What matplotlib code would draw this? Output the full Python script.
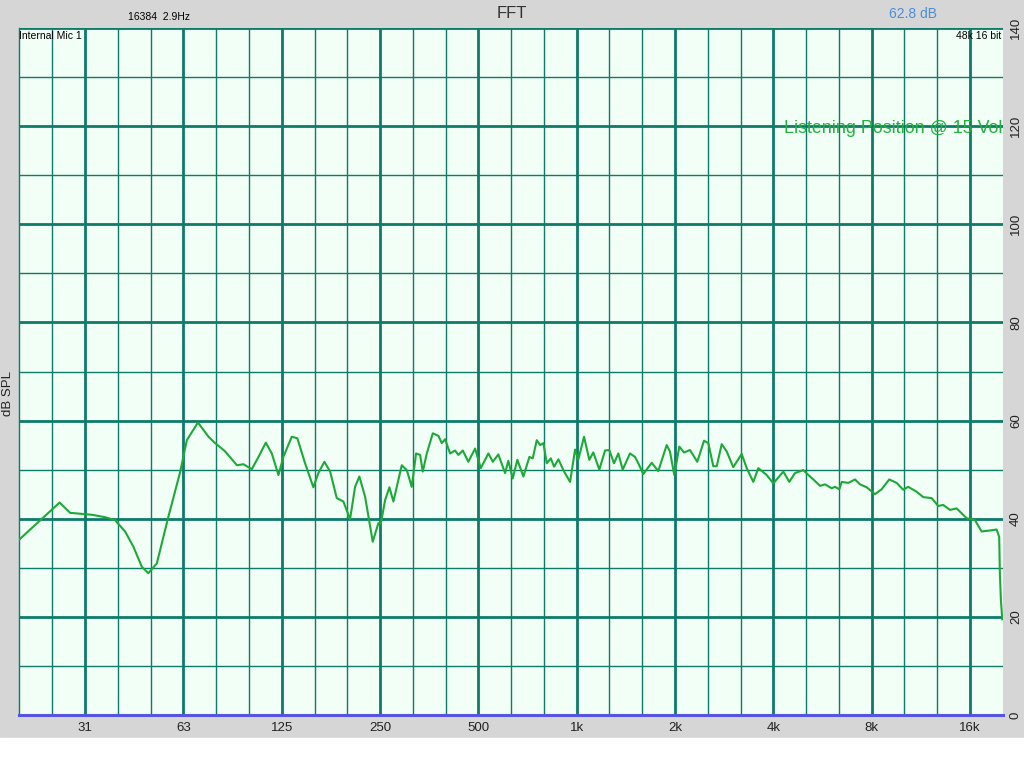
import matplotlib
matplotlib.use('Agg')
import matplotlib.pyplot as plt
import numpy as np
from matplotlib.patches import Rectangle

plt.rcParams['font.family'] = ['Liberation Sans', 'DejaVu Sans']

freq = [19.6, 26.1, 28.1, 32.8, 36.0, 38.6, 41.4, 43.9, 46.6, 48.8, 51.8, 56.2, 61.1,
        64.0, 69.2, 74.6, 78.1, 81.9, 83.9, 91.1, 95.4, 101.2, 106.1, 111.7, 116.5, 122.1,
        126.4, 134.1, 139.5, 147.3, 156.2, 161.8, 168.8, 175.8, 184.2, 193.0, 202.3, 209.6,
        216.0, 224.9, 237.4, 247.0, 251.2, 259.0, 267.0, 274.6, 291.3, 301.8, 312.5, 322.2,
        331.5, 337.8, 347.5, 362.5, 377.0, 386.3, 395.3, 409.5, 424.2, 434.2, 447.8, 465.8,
        488.5, 508.5, 536.5, 553.5, 575.5, 603.5, 617.5, 637, 658, 686.5, 716.5, 733.5,
        754.5, 772.5, 790.5, 810, 833, 852.5, 879, 915, 954.5, 988.5, 1011, 1053, 1093,
        1124, 1173, 1221, 1258, 1301, 1341, 1383, 1456, 1508, 1544, 1599, 1697, 1777, 1886,
        1930, 1990, 2062, 2131, 2223, 2340, 2454, 2529, 2620, 2684, 2780, 2880, 3016, 3200,
        3316, 3474, 3598, 3818, 4000, 4292, 4477, 4660, 4940, 5181, 5304, 5560, 5760, 6036,
        6180, 6369, 6480, 6788, 7115, 7371, 7727, 8188, 8584, 9057, 9543, 9997, 10352,
        10984, 11512, 12216, 12792, 13256, 13896, 14568, 15632, 16576, 17376, 18416, 19312,
        19664, 19760, 19904, 20096]
spl = [35.7, 43.3, 41.2, 40.8, 40.3, 39.7, 37.4, 34.3, 30.2, 28.9, 30.9, 40.4, 49.6,
       56.0, 59.6, 56.7, 55.4, 54.3, 53.7, 50.9, 51.1, 50.1, 52.6, 55.5, 53.3, 48.9,
       52.6, 56.7, 56.4, 51.3, 46.4, 49.3, 51.6, 49.6, 44.2, 43.5, 39.9, 46.5,
       48.6, 44.5, 35.3, 39.1, 38.9, 43.8, 46.4, 43.5, 50.9, 49.9, 46.5, 53.3,
       53.0, 49.6, 53.3, 57.4, 56.9, 55.4, 56.2, 53.3, 53.9, 53.0, 53.9, 51.6,
       54.3, 50.3, 53.3, 51.6, 53.1, 49.3, 51.8, 48.2, 52.0, 48.6, 52.6, 52.3,
       56.0, 55.0, 55.4, 51.3, 52.3, 50.6, 52.1, 49.6, 47.5, 54.1, 52.0, 56.7, 52.0,
       53.5, 50.0, 53.9, 54.0, 51.3, 53.3, 50.0, 53.3, 52.6, 51.3, 49.1, 51.4, 49.7, 55.0,
       53.7, 48.9, 54.7, 53.5, 54.0, 51.6, 55.9, 55.4, 50.7, 50.7, 55.2, 53.7, 50.5, 53.2,
       50.3, 47.5, 50.3, 48.9, 47.2, 49.6, 47.5, 49.3, 49.9, 48.6, 48.0, 46.7, 47.0, 46.2,
       46.5, 46.0, 47.5, 47.3, 48.0, 47.0, 46.4, 45.0, 46.0, 48.0, 47.3, 45.9, 46.5,
       45.5, 44.4, 44.2, 42.6, 42.8, 41.8, 42.1, 40.1, 39.7, 37.4, 37.6, 37.8,
       36.3, 28.9, 23.4, 19.5]

tick_freqs = [31.25, 62.5, 125, 250, 500, 1000, 2000, 4000, 8000, 16000]
tick_labels = ['31', '63', '125', '250', '500', '1k', '2k', '4k', '8k', '16k']
y_ticks = [0, 20, 40, 60, 80, 100, 120, 140]

grid_col = '#0e7a68'

fig = plt.figure(figsize=(10.24, 7.68), dpi=100, facecolor='#d6d6d6')
fig.patches.append(Rectangle((0, 0), 1, 30/768, transform=fig.transFigure,
                             color='white', zorder=0))
ax = fig.add_axes([19/1024, 53/768, 984/1024, 687/768])
ax.set_facecolor('#f1fff6')
ax.set_xscale('log')
ax.set_xlim(19.6, 20200)
ax.set_ylim(0, 140)

# grid: octaves and 20 dB thick, third octaves and 10 dB thin
for k in range(-2, 29):
    f = 31.25 * 2 ** (k / 3)
    if f <= 19.7 or f > 20000:
        continue
    ax.axvline(f, color=grid_col, lw=2.0 if k % 3 == 0 else 1.0, zorder=1)
for v in range(10, 141, 10):
    ax.axhline(v, color=grid_col, lw=2.0 if v % 20 == 0 else 1.0, zorder=1)

ax.plot(freq, spl, color='#1fa83a', lw=1.5, zorder=3)

for s in ['top', 'right']:
    ax.spines[s].set_visible(False)
ax.spines['left'].set_color(grid_col)
ax.spines['left'].set_linewidth(1.0)
ax.spines['bottom'].set_color('#5555dd')
ax.spines['bottom'].set_linewidth(2.2)
ax.spines['bottom'].set_zorder(4)

ax.set_xticks(tick_freqs)
ax.set_xticklabels(tick_labels)
ax.xaxis.set_minor_locator(matplotlib.ticker.NullLocator())
ax.tick_params(axis='x', length=0, pad=5, labelsize=9.5, labelcolor='#222222')
ax.yaxis.tick_right()
ax.set_yticks(y_ticks)
ax.set_yticklabels([str(v) for v in y_ticks], rotation=90, va='center')
ax.tick_params(axis='y', length=0, pad=5, labelsize=9.5, labelcolor='#222222')

ax.text(0.0, 0.995, 'Internal Mic 1', transform=ax.transAxes, fontsize=7.5,
        va='top', ha='left', zorder=5)
ax.text(0.998, 0.995, '48k 16 bit', transform=ax.transAxes, fontsize=7.5,
        va='top', ha='right', zorder=5)
ax.text(0.999, 119.5, 'Listening Position @ 15 Vol', color='#22b040',
        transform=ax.get_yaxis_transform(),
        fontsize=12.9, va='center', ha='right', zorder=5)

fig.text(512/1024, 1 - 14/768, 'FFT', ha='center', va='center', fontsize=12,
         color='#333333')
fig.text(128/1024, 1 - 17/768, '16384  2.9Hz', ha='left', va='center', fontsize=7.5)
fig.text(913/1024, 1 - 14/768, '62.8 dB', ha='center', va='center', fontsize=10,
         color='#4a8fd8')
fig.text(8/1024, 375/768, 'dB SPL', rotation=90, ha='center', va='center',
         fontsize=9.5, color='#222222')

fig.savefig('out.png', dpi=100, facecolor=fig.get_facecolor())
